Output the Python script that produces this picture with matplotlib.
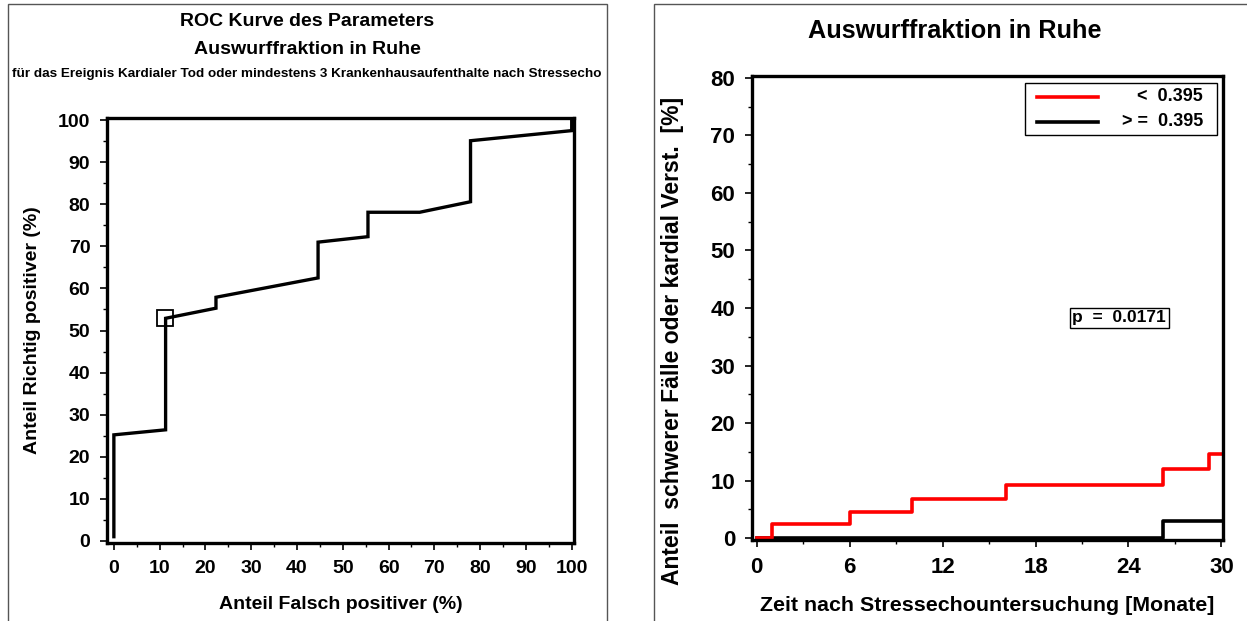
import matplotlib
matplotlib.use("Agg")
import matplotlib.pyplot as plt
from matplotlib.patches import Rectangle
from matplotlib.lines import Line2D
from matplotlib.ticker import MultipleLocator

plt.rcParams["font.family"] = ["Liberation Sans", "DejaVu Sans"]
plt.rcParams["font.weight"] = "bold"
plt.rcParams["axes.labelweight"] = "bold"

# ROC curve (false positive %, true positive %)
roc_fp = [0, 0, 11.3, 11.3, 22.3, 22.3, 44.6, 44.6, 55.5, 55.5, 66.8, 77.9, 77.9, 100, 100]
roc_tp = [1.0, 25.2, 26.4, 52.9, 55.3, 57.9, 62.5, 71.0, 72.3, 78.1, 78.1, 80.6, 95.1, 97.5, 100]
cut_point = (11.2, 53.0)

# cumulative event curves (months, %)
low_t = [0, 1.0, 6.0, 10.0, 16.1, 26.2, 29.2, 30]
low_y = [0, 2.5, 4.6, 6.9, 9.3, 12.0, 14.6, 14.6]
high_t = [0, 26.2, 30]
high_y = [0, 3.0, 3.0]
group_labels = ["<  0.395", "> =  0.395"]
group_colors = ["#ff0000", "black"]
p_text = "p  =  0.0171"

W, H = 1247, 621
fig = plt.figure(figsize=(W / 100, H / 100), dpi=100)

# panel borders
for x0, x1 in [(8, 607), (654, 1252)]:
    fig.patches.append(Rectangle((x0 / W, -0.05), (x1 - x0) / W, 1 - 4 / H + 0.05,
                                 transform=fig.transFigure, fill=False,
                                 edgecolor="#555555", linewidth=1.0))

# ---- left: ROC ----
ax1 = fig.add_axes([107 / W, 1 - 543 / H, 467 / W, 425 / H])
ax1.plot(roc_fp, roc_tp, color="black", linewidth=2.4, solid_joinstyle="miter")
ax1.plot([cut_point[0]], [cut_point[1]], marker="s", markersize=12, markerfacecolor="none",
         markeredgecolor="black", markeredgewidth=1.3, linestyle="none")
ax1.set_xlim(-1.5, 100.5)
ax1.set_ylim(-0.5, 100.5)
ax1.set_xticks(range(0, 101, 10))
ax1.set_yticks(range(0, 101, 10))
ax1.xaxis.set_minor_locator(MultipleLocator(5))
ax1.yaxis.set_minor_locator(MultipleLocator(5))
ax1.tick_params(which="major", length=5, width=1.2, labelsize=14, pad=7)
ax1.tick_params(which="minor", length=3, width=1.0)
for s in ax1.spines.values():
    s.set_linewidth(2.4)
ax1.set_xlabel("Anteil Falsch positiver (%)", fontsize=14, labelpad=14)
ax1.set_ylabel("Anteil Richtig positiver (%)", fontsize=14, labelpad=12)
fig.text(307 / W, 1 - 22 / H, "ROC Kurve des Parameters", ha="center", va="center", fontsize=14)
fig.text(307 / W, 1 - 50 / H, "Auswurffraktion in Ruhe", ha="center", va="center", fontsize=14)
fig.text(307 / W, 1 - 74 / H,
         "für das Ereignis Kardialer Tod oder mindestens 3 Krankenhausaufenthalte nach Stressecho",
         ha="center", va="center", fontsize=9.7)

# ---- right: cumulative incidence ----
ax2 = fig.add_axes([752 / W, 1 - 540 / H, 471 / W, 464 / H])
ax2.step(high_t, high_y, where="post", color=group_colors[1], linewidth=2.6)
ax2.step(low_t, low_y, where="post", color=group_colors[0], linewidth=2.6)
ax2.set_xlim(-0.3, 30.1)
ax2.set_ylim(-0.3, 80.3)
ax2.set_xticks(range(0, 31, 6))
ax2.set_yticks(range(0, 81, 10))
ax2.xaxis.set_minor_locator(MultipleLocator(3))
ax2.yaxis.set_minor_locator(MultipleLocator(5))
ax2.tick_params(which="major", length=5, width=1.2, labelsize=16, pad=7)
ax2.tick_params(which="minor", length=3, width=1.0)
for s in ax2.spines.values():
    s.set_linewidth(2.4)
ax2.set_xlabel("Zeit nach Stressechountersuchung [Monate]", fontsize=15.4, labelpad=13)
ax2.set_ylabel("Anteil  schwerer Fälle oder kardial Verst.  [%]", fontsize=16.5)
ax2.yaxis.set_label_coords(-0.145, 0.43)
fig.text(955 / W, 1 - 31 / H, "Auswurffraktion in Ruhe", ha="center", va="center", fontsize=18.2)

# legend box drawn by hand so that the texts sit right-aligned
ax2.add_patch(Rectangle((0.580, 0.873), 0.407, 0.112, transform=ax2.transAxes,
                        fill=False, edgecolor="black", linewidth=1.0))
for label, color, yy in zip(group_labels, group_colors, [0.955, 0.901]):
    ax2.add_line(Line2D([0.605, 0.735], [yy, yy], transform=ax2.transAxes,
                        color=color, linewidth=2.6))
    ax2.text(0.958, yy, label, transform=ax2.transAxes, ha="right", va="center", fontsize=13)

ax2.text(23.4, 38.3, p_text, ha="center", va="center", fontsize=12.5,
         bbox=dict(boxstyle="square,pad=0.15", facecolor="white", edgecolor="black", linewidth=1.0))

fig.savefig("out.png", dpi=100)
